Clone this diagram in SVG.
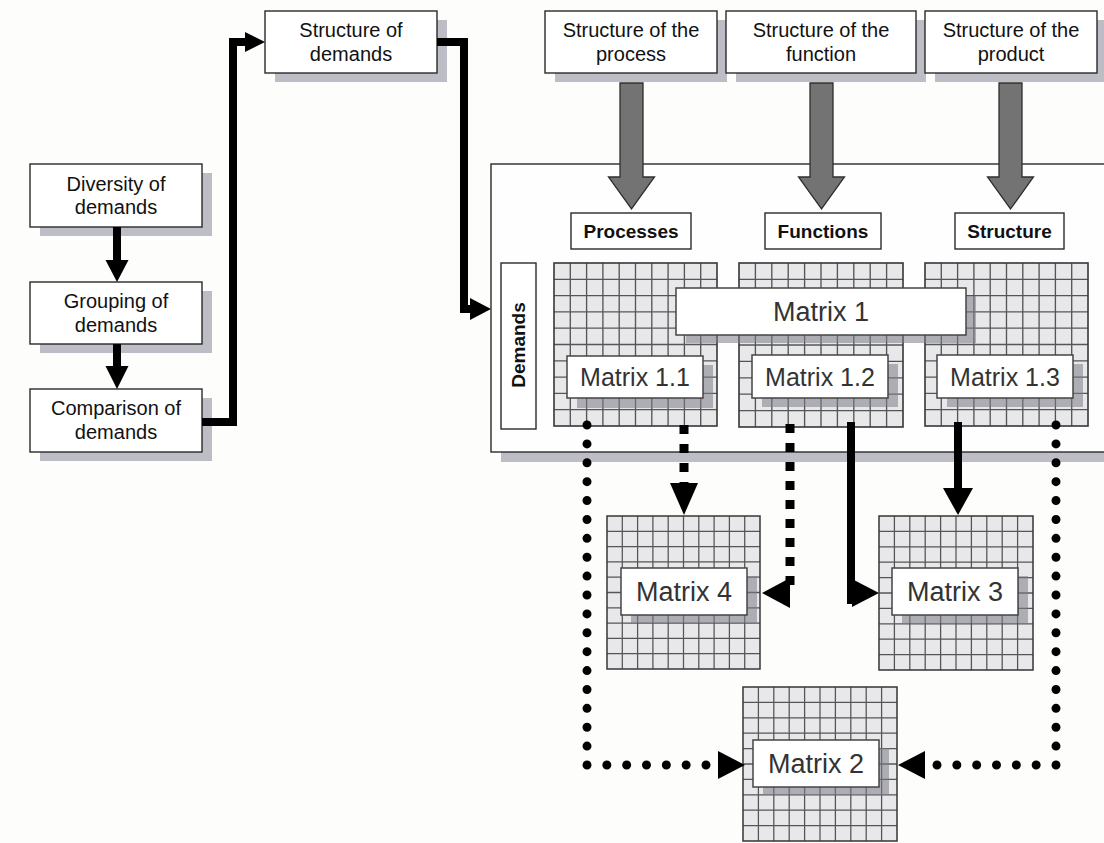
<svg xmlns="http://www.w3.org/2000/svg" xmlns:xlink="http://www.w3.org/1999/xlink" width="1104" height="843" viewBox="0 0 1104 843">
  <defs>
    <style>
      .box{fill:#fff;stroke:#2a2a2a;stroke-width:1.4}
      .mbox{fill:#fff;stroke:#444;stroke-width:1.5}
      .sh{fill:#bdbdc5}
      .msh{fill:#7c7c86;opacity:.55}
      .t{font-family:"Liberation Sans",Arial,Helvetica,sans-serif;font-size:20px;fill:#111;text-anchor:middle}
      .lb{font-weight:bold;font-size:19px}
      .mx{font-size:27px;fill:#333}
      .mx1{font-size:25px;fill:#333}
      .conn{fill:none;stroke:#000;stroke-width:8;stroke-linejoin:miter}
      .head{fill:#000}
      .dots{fill:none;stroke:#000;stroke-width:9;stroke-linecap:round}
      .sq{fill:none;stroke:#000;stroke-width:9;stroke-dasharray:9 10}
      .big{fill:#737373;stroke:#2e2e2e;stroke-width:1.3}
    </style>
    <!-- 10 x 10 cell grid in unit coordinates -->
    <g id="grid">
      <rect width="10" height="10" fill="#e8e8eb"/>
      <path d="M1 0V10M2 0V10M3 0V10M4 0V10M5 0V10M6 0V10M7 0V10M8 0V10M9 0V10M0 1H10M0 2H10M0 3H10M0 4H10M0 5H10M0 6H10M0 7H10M0 8H10M0 9H10" fill="none" stroke="#555" stroke-width="0.082"/>
      <rect width="10" height="10" fill="none" stroke="#3a3a3a" stroke-width="0.1"/>
    </g>
    <!-- wide grey block arrow, centred on x=0 -->
    <polygon id="bigArrow" class="big" points="-11.5,0 11.5,0 11.5,94 23,94 0,126 -23,94 -11.5,94"/>
  </defs>

  <rect width="1104" height="843" fill="#fdfdfb"/>

  <!-- left column -->
  <g id="diversity">
    <rect class="sh" x="40" y="173" width="172" height="63"/>
    <rect class="box" x="30" y="164" width="172" height="63"/>
    <text class="t" x="116" y="191">Diversity of</text>
    <text class="t" x="116" y="214">demands</text>
  </g>
  <g id="grouping">
    <rect class="sh" x="40" y="291" width="172" height="62"/>
    <rect class="box" x="30" y="282" width="172" height="62"/>
    <text class="t" x="116" y="308">Grouping of</text>
    <text class="t" x="116" y="332">demands</text>
  </g>
  <g id="comparison">
    <rect class="sh" x="40" y="398" width="172" height="63"/>
    <rect class="box" x="30" y="389" width="172" height="63"/>
    <text class="t" x="116" y="415">Comparison of</text>
    <text class="t" x="116" y="439">demands</text>
  </g>
  <g id="structure-demands">
    <rect class="sh" x="275" y="20" width="172" height="62"/>
    <rect class="box" x="265" y="11" width="172" height="62"/>
    <text class="t" x="351" y="37">Structure of</text>
    <text class="t" x="351" y="61">demands</text>
  </g>

  <!-- top source boxes -->
  <g id="src-process">
    <rect class="sh" x="555" y="20" width="172" height="62"/>
    <rect class="box" x="545" y="11" width="172" height="62"/>
    <text class="t" x="631" y="37">Structure of the</text>
    <text class="t" x="631" y="61">process</text>
  </g>
  <g id="src-function">
    <rect class="sh" x="736" y="20" width="190" height="62"/>
    <rect class="box" x="726" y="11" width="190" height="62"/>
    <text class="t" x="821" y="37">Structure of the</text>
    <text class="t" x="821" y="61">function</text>
  </g>
  <g id="src-product">
    <rect class="sh" x="935" y="20" width="172" height="62"/>
    <rect class="box" x="925" y="11" width="172" height="62"/>
    <text class="t" x="1011" y="37">Structure of the</text>
    <text class="t" x="1011" y="61">product</text>
  </g>

  <!-- main matrix frame -->
  <g id="frame">
    <rect class="sh" x="501" y="174" width="620" height="288"/>
    <rect x="491" y="164" width="630" height="288" fill="#fefefe" stroke="#2a2a2a" stroke-width="1.4"/>
  </g>

  <g id="big-arrows">
    <use xlink:href="#bigArrow" href="#bigArrow" transform="translate(631.5 83)"/>
    <use xlink:href="#bigArrow" href="#bigArrow" transform="translate(821.5 83)"/>
    <use xlink:href="#bigArrow" href="#bigArrow" transform="translate(1010.5 83)"/>
  </g>

  <g id="lbl-processes">
    <rect class="box" x="571" y="213" width="120" height="36"/>
    <text class="t lb" x="631" y="238">Processes</text>
  </g>
  <g id="lbl-functions">
    <rect class="box" x="765" y="213" width="116" height="36"/>
    <text class="t lb" x="823" y="238">Functions</text>
  </g>
  <g id="lbl-structure">
    <rect class="box" x="955" y="213" width="109" height="36"/>
    <text class="t lb" x="1009.5" y="238">Structure</text>
  </g>
  <g id="lbl-demands">
    <rect class="box" x="501" y="263" width="35" height="166"/>
    <text class="t lb" transform="translate(525 345) rotate(-90)">Demands</text>
  </g>

  <!-- matrix grids -->
  <g id="grids">
    <use xlink:href="#grid" href="#grid" transform="translate(554 263) scale(16.3)"/>
    <use xlink:href="#grid" href="#grid" transform="translate(739 263) scale(16.4)"/>
    <use xlink:href="#grid" href="#grid" transform="translate(925 263) scale(16.3)"/>
    <use xlink:href="#grid" href="#grid" transform="translate(607 516) scale(15.3)"/>
    <use xlink:href="#grid" href="#grid" transform="translate(879 516) scale(15.4)"/>
    <use xlink:href="#grid" href="#grid" transform="translate(743 687) scale(15.4)"/>
  </g>

  <g id="matrix-1-1">
    <rect class="msh" x="577" y="365" width="136" height="43"/>
    <rect class="mbox" x="567" y="356" width="136" height="42"/>
    <text class="t mx1" x="635" y="386">Matrix 1.1</text>
  </g>
  <g id="matrix-1-2">
    <rect class="msh" x="762" y="364" width="136" height="43"/>
    <rect class="mbox" x="752" y="355" width="136" height="43"/>
    <text class="t mx1" x="820" y="386">Matrix 1.2</text>
  </g>
  <g id="matrix-1-3">
    <rect class="msh" x="947" y="364" width="136" height="43"/>
    <rect class="mbox" x="937" y="355" width="136" height="43"/>
    <text class="t mx1" x="1005" y="386">Matrix 1.3</text>
  </g>
  <g id="matrix-1">
    <rect class="msh" x="686" y="296" width="290" height="47"/>
    <rect class="mbox" x="676" y="288" width="290" height="47"/>
    <text class="t mx" x="821" y="321">Matrix 1</text>
  </g>
  <g id="matrix-4">
    <rect class="msh" x="631" y="576" width="126" height="47"/>
    <rect class="mbox" x="621" y="568" width="126" height="47"/>
    <text class="t mx" x="684" y="601">Matrix 4</text>
  </g>
  <g id="matrix-3">
    <rect class="msh" x="902" y="576" width="126" height="47"/>
    <rect class="mbox" x="892" y="568" width="126" height="47"/>
    <text class="t mx" x="955" y="601">Matrix 3</text>
  </g>
  <g id="matrix-2">
    <rect class="msh" x="763" y="748" width="126" height="47"/>
    <rect class="mbox" x="753" y="740" width="126" height="47"/>
    <text class="t mx" x="816" y="773">Matrix 2</text>
  </g>

  <!-- connectors -->
  <g id="connectors">
    <path class="conn" d="M117 227V262"/>
    <polygon class="head" points="105.5,260 128.5,260 117,282"/>
    <path class="conn" d="M117 344V368"/>
    <polygon class="head" points="105.5,366 128.5,366 117,389"/>
    <path class="conn" d="M202 422H233V42H248"/>
    <polygon class="head" points="245,32 265,42 245,52"/>
    <path class="conn" d="M437 42H464V309H473"/>
    <polygon class="head" points="470,298 491,309 470,320"/>

    <path class="sq" d="M684 425V484"/>
    <polygon class="head" points="670,483 698,483 684,515"/>
    <path class="sq" d="M790 424V590"/>
    <polygon class="head" points="790,578 762,593 790,608"/>

    <path class="conn" d="M851 422V604"/>
    <polygon class="head" points="852,579 879,593 852,607"/>
    <path class="conn" d="M958 422V490"/>
    <polygon class="head" points="943,488 973,488 958,515"/>

    <path class="dots" d="M587 425V765" stroke-dasharray="0 18.889"/>
    <path class="dots" d="M587 765H706" stroke-dasharray="0 19.833"/>
    <polygon class="head" points="718,751 745,765 718,779"/>
    <path class="dots" d="M1056 425V765" stroke-dasharray="0 18.889"/>
    <path class="dots" d="M1056 765H937" stroke-dasharray="0 19.833"/>
    <polygon class="head" points="925,751 898,765 925,779"/>
  </g>
</svg>
